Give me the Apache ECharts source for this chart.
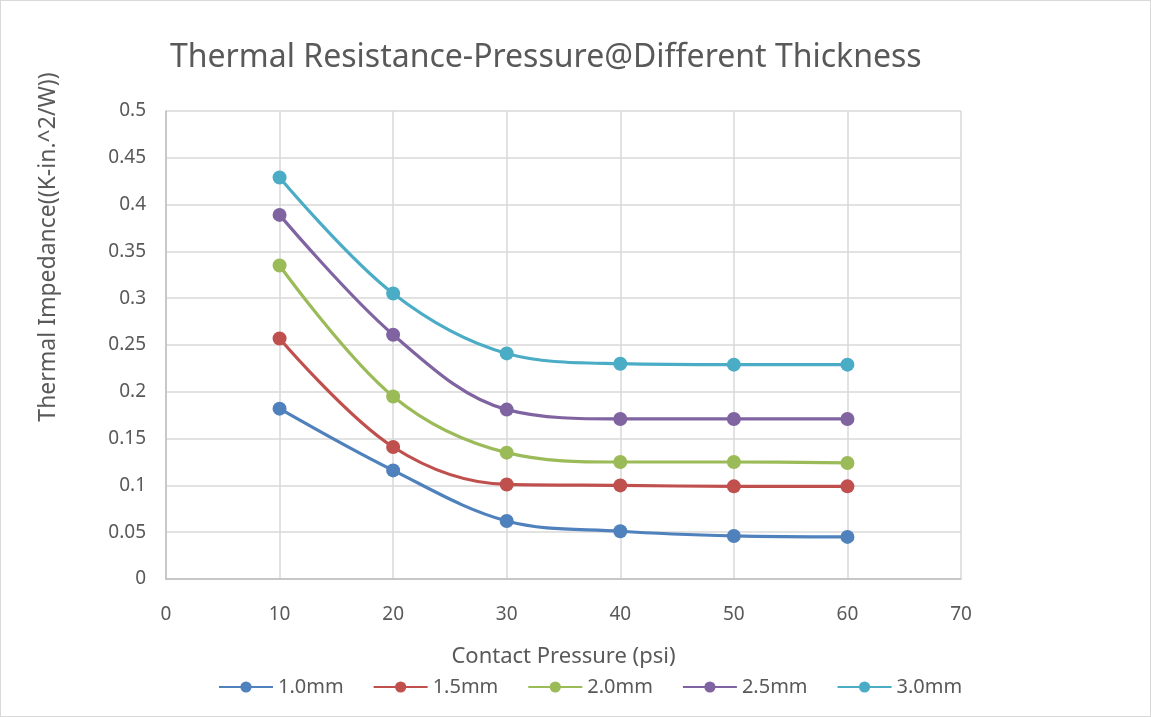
<!DOCTYPE html>
<html>
<head>
<meta charset="utf-8">
<script src="https://cdn.jsdelivr.net/npm/echarts@6/dist/echarts.min.js"></script>
<style>
  html, body { margin: 0; padding: 0; background: #fff; }
  #chart { width: 1149px; height: 715px; border: 1px solid #d9d9d9; }
</style>
</head>
<body>
<div id="chart"></div>
<script>
  // 数据
  var pressure = [10, 20, 30, 40, 50, 60];
  var names = ['1.0mm', '1.5mm', '2.0mm', '2.5mm', '3.0mm'];
  var t10 = [0.182, 0.116, 0.062, 0.051, 0.046, 0.045];
  var t15 = [0.257, 0.141, 0.101, 0.100, 0.099, 0.099];
  var t20 = [0.335, 0.195, 0.135, 0.125, 0.125, 0.124];
  var t25 = [0.389, 0.261, 0.181, 0.171, 0.171, 0.171];
  var t30 = [0.429, 0.305, 0.241, 0.230, 0.229, 0.229];
  var colors = ['#4F81BD', '#C0504D', '#9BBB59', '#8064A2', '#4BACC6'];

  var font = '"Noto Sans", sans-serif';
  var grey = '#595959';

  function makeSeries(name, vals, color) {
    return {
      name: name,
      type: 'line',
      smooth: 0.35,
      data: pressure.map(function (p, i) { return [p, vals[i]]; }),
      symbol: 'circle',
      symbolSize: 14,
      itemStyle: { color: color },
      lineStyle: { color: color, width: 3.2 }
    };
  }

  var myChart = echarts.init(document.getElementById('chart'));
  myChart.setOption({
    animation: false,
    title: {
      text: 'Thermal Resistance-Pressure@Different Thickness',
      left: 164,
      top: 36,
      textStyle: { color: grey, fontSize: 32, fontWeight: 'normal', fontFamily: font }
    },
    legend: {
      data: names,
      bottom: 14,
      left: 212,
      itemWidth: 54,
      itemHeight: 14,
      itemGap: 29,
      textStyle: { color: grey, fontSize: 20, fontFamily: font }
    },
    grid: { left: 165, right: 189, top: 110, bottom: 137 },
    xAxis: {
      type: 'value',
      min: 0,
      max: 70,
      interval: 10,
      name: 'Contact Pressure (psi)',
      nameLocation: 'middle',
      nameGap: 67,
      nameTextStyle: { color: grey, fontSize: 22, fontFamily: font },
      axisLine: { lineStyle: { color: '#bfbfbf', width: 1.5 } },
      axisTick: { show: false },
      axisLabel: { color: grey, fontSize: 19, fontFamily: font, margin: 26 },
      splitLine: { show: true, lineStyle: { color: '#d9d9d9', width: 1.5 } }
    },
    yAxis: {
      type: 'value',
      min: 0,
      max: 0.5,
      interval: 0.05,
      name: 'Thermal Impedance((K-in.^2/W))',
      nameLocation: 'middle',
      nameGap: 106,
      // 名称整体上移
      nameTextStyle: { color: grey, fontSize: 23, fontFamily: font, padding: [0, 0, 0, 196] },
      axisLine: { show: true, lineStyle: { color: '#bfbfbf', width: 1.5 } },
      axisTick: { show: false },
      axisLabel: {
        color: grey, fontSize: 19, fontFamily: font, margin: 20,
        formatter: function (v) { return String(+v.toFixed(2)); }
      },
      splitLine: { show: true, lineStyle: { color: '#d9d9d9', width: 1.5 } }
    },
    series: [
      makeSeries(names[0], t10, colors[0]),
      makeSeries(names[1], t15, colors[1]),
      makeSeries(names[2], t20, colors[2]),
      makeSeries(names[3], t25, colors[3]),
      makeSeries(names[4], t30, colors[4])
    ]
  });
</script>
</body>
</html>
